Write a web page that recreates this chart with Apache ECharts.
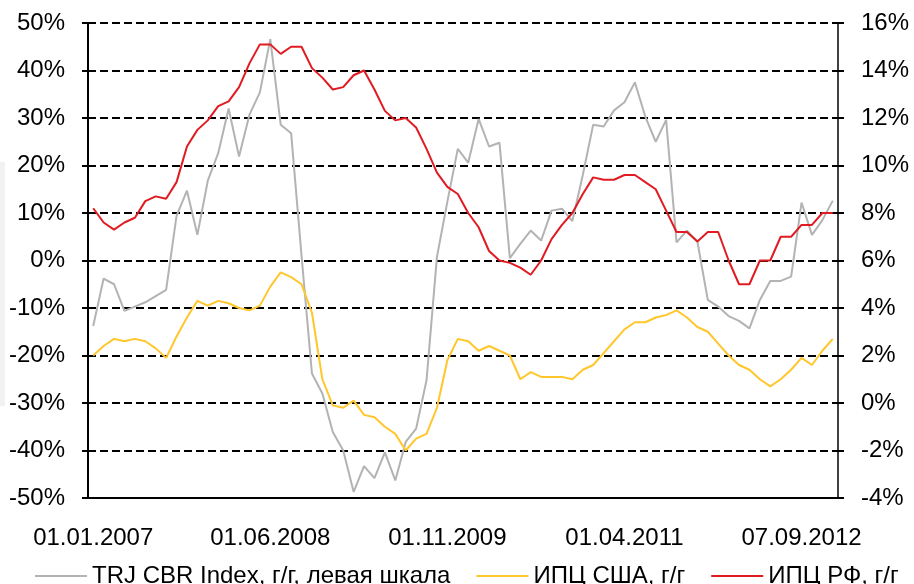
<!DOCTYPE html>
<html>
<head>
<meta charset="utf-8">
<script src="https://cdn.jsdelivr.net/npm/echarts@6/dist/echarts.min.js"></script>
<style>
  html, body { margin: 0; padding: 0; background: #fff; }
  #chart { width: 914px; height: 584px; }
</style>
</head>
<body>
<div id="chart"></div>
<script>
// месячные даты по оси X
const dates = [
  '01.01.2007', '01.02.2007', '01.03.2007', '01.04.2007', '01.05.2007', '01.06.2007',
  '01.07.2007', '01.08.2007', '01.09.2007', '01.10.2007', '01.11.2007', '01.12.2007',
  '01.01.2008', '01.02.2008', '01.03.2008', '01.04.2008', '01.05.2008', '01.06.2008',
  '01.07.2008', '01.08.2008', '01.09.2008', '01.10.2008', '01.11.2008', '01.12.2008',
  '01.01.2009', '01.02.2009', '01.03.2009', '01.04.2009', '01.05.2009', '01.06.2009',
  '01.07.2009', '01.08.2009', '01.09.2009', '01.10.2009', '01.11.2009', '01.12.2009',
  '01.01.2010', '01.02.2010', '01.03.2010', '01.04.2010', '01.05.2010', '01.06.2010',
  '01.07.2010', '01.08.2010', '01.09.2010', '01.10.2010', '01.11.2010', '01.12.2010',
  '01.01.2011', '01.02.2011', '01.03.2011', '01.04.2011', '01.05.2011', '01.06.2011',
  '01.07.2011', '01.08.2011', '01.09.2011', '01.10.2011', '01.11.2011', '01.12.2011',
  '01.01.2012', '01.02.2012', '01.03.2012', '01.04.2012', '01.05.2012', '01.06.2012',
  '01.07.2012', '01.08.2012', '07.09.2012', '01.10.2012', '01.11.2012', '01.12.2012'
]

// TRJ CBR Index, г/г (левая шкала, %)
const trjCbr = [
  -13.8, -3.8, -5.0, -10.6, -9.7, -8.8, -7.5, -6.2, 9.4, 14.7, 5.4, 16.8,
  22.6, 32.0, 21.9, 30.7, 35.4, 46.6, 28.6, 26.8, 1.0, -23.8, -28.0, -36.1,
  -40.0, -48.7, -43.3, -45.8, -40.4, -46.3, -38.2, -35.4, -25.2, 0.8, 12.4, 23.5,
  20.6, 29.8, 24.0, 24.8, 0.5, 3.5, 6.3, 4.2, 10.5, 10.9, 8.3, 18.0,
  28.6, 28.2, 31.6, 33.3, 37.5, 30.3, 25.0, 29.6, 3.8, 6.3, 4.0, -8.3,
  -9.7, -11.7, -12.7, -14.3, -8.3, -4.3, -4.3, -3.4, 12.2, 5.4, 8.5, 12.6
]

// ИПЦ США, г/г (правая шкала, %)
const cpiUsa = [
  2.0, 2.4, 2.7, 2.6, 2.7, 2.6, 2.3, 1.9, 2.8, 3.6, 4.3, 4.1,
  4.3, 4.2, 4.0, 3.9, 4.1, 4.9, 5.5, 5.3, 5.0, 3.8, 1.0, -0.1,
  -0.2, 0.1, -0.5, -0.6, -1.0, -1.3, -2.0, -1.5, -1.3, -0.2, 1.8, 2.7,
  2.6, 2.2, 2.4, 2.2, 2.0, 1.0, 1.3, 1.1, 1.1, 1.1, 1.0, 1.4,
  1.6, 2.1, 2.6, 3.1, 3.4, 3.4, 3.6, 3.7, 3.9, 3.6, 3.2, 3.0,
  2.5, 2.0, 1.6, 1.4, 1.0, 0.7, 1.0, 1.4, 1.9, 1.6, 2.2, 2.7
]

// ИПЦ РФ, г/г (правая шкала, %)
const cpiRus = [
  8.2, 7.6, 7.3, 7.6, 7.8, 8.5, 8.7, 8.6, 9.3, 10.8, 11.5, 11.9,
  12.5, 12.7, 13.3, 14.3, 15.1, 15.1, 14.7, 15.0, 15.0, 14.1, 13.7, 13.2,
  13.3, 13.8, 14.0, 13.2, 12.3, 11.9, 12.0, 11.6, 10.7, 9.7, 9.1, 8.8,
  8.0, 7.4, 6.4, 6.0, 5.9, 5.7, 5.4, 6.0, 6.9, 7.5, 8.0, 8.8,
  9.5, 9.4, 9.4, 9.6, 9.6, 9.3, 9.0, 8.1, 7.2, 7.2, 6.8, 7.2,
  7.2, 6.0, 5.0, 5.0, 6.0, 6.0, 7.0, 7.0, 7.5, 7.5, 8.0, 8.0
]

const font = 'Arial, "Liberation Sans", sans-serif'

const chart = echarts.init(document.getElementById('chart'), null, { renderer: 'canvas' })

chart.setOption({
  animation: false,
  backgroundColor: '#fff',
  textStyle: { fontFamily: font, color: '#000' },
  grid: { left: 88, right: 76, top: 23, bottom: 86 },
  graphic: [
    { type: 'rect', shape: { x: 0, y: 162, width: 5, height: 244 }, style: { fill: '#f2f2f2' }, silent: true }
  ],
  legend: {
    left: 35,
    top: 564,
    padding: 0,
    icon: 'rect',
    itemWidth: 52,
    itemHeight: 2,
    itemGap: 26,
    textStyle: { fontFamily: font, fontSize: 24, color: '#000' },
    data: ['TRJ CBR Index, г/г, левая шкала', 'ИПЦ США, г/г', 'ИПЦ РФ, г/г']
  },
  xAxis: {
    type: 'category',
    data: dates,
    boundaryGap: true,
    axisLine: { onZero: false, lineStyle: { color: '#000', width: 2 } },
    axisTick: { interval: 1, length: 7, lineStyle: { color: '#000', width: 2 } },
    axisLabel: { interval: 16, margin: 28, fontSize: 24, color: '#000', fontFamily: font },
    splitLine: { show: false }
  },
  yAxis: [
    {
      type: 'value',
      min: -50,
      max: 50,
      interval: 10,
      axisLine: { show: true, lineStyle: { color: '#000', width: 2 } },
      axisTick: { show: true, length: 6, lineStyle: { color: '#000', width: 2 } },
      axisLabel: { formatter: '{value}%', margin: 23, fontSize: 24, color: '#000', fontFamily: font },
      splitLine: { show: true, lineStyle: { color: '#000', width: 2, type: [8, 4] } }
    },
    {
      type: 'value',
      min: -4,
      max: 16,
      interval: 2,
      axisLine: { show: true, lineStyle: { color: '#000', width: 1.5 } },
      axisTick: { show: true, length: 6, lineStyle: { color: '#000', width: 2 } },
      axisLabel: { formatter: '{value}%', margin: 23, fontSize: 24, color: '#000', fontFamily: font },
      splitLine: { show: false }
    }
  ],
  series: [
    {
      name: 'TRJ CBR Index, г/г, левая шкала',
      type: 'line',
      yAxisIndex: 0,
      symbol: 'none',
      data: trjCbr,
      lineStyle: { color: '#b3b3b3', width: 2 },
      itemStyle: { color: '#b3b3b3' }
    },
    {
      name: 'ИПЦ США, г/г',
      type: 'line',
      yAxisIndex: 1,
      symbol: 'none',
      data: cpiUsa,
      lineStyle: { color: '#ffc72c', width: 2 },
      itemStyle: { color: '#ffc72c' }
    },
    {
      name: 'ИПЦ РФ, г/г',
      type: 'line',
      yAxisIndex: 1,
      symbol: 'none',
      data: cpiRus,
      lineStyle: { color: '#e11b22', width: 2 },
      itemStyle: { color: '#e11b22' }
    }
  ]
})
</script>
</body>
</html>
